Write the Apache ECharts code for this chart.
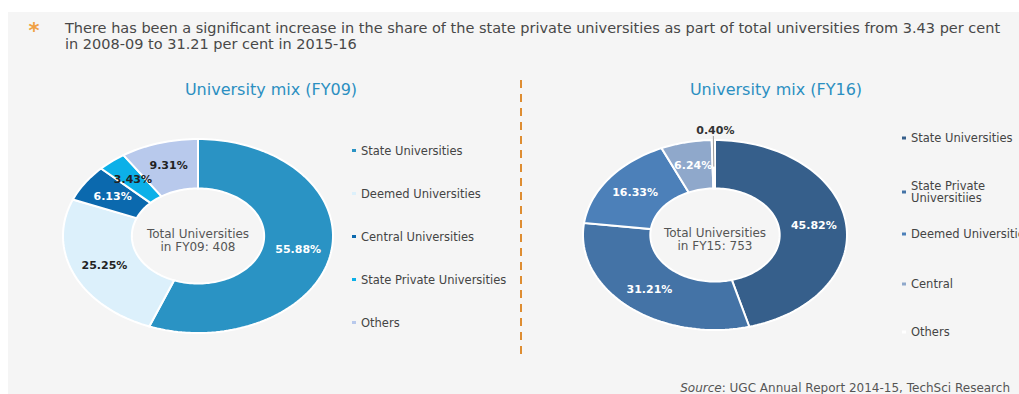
<!DOCTYPE html>
<html>
<head>
<meta charset="utf-8">
<title>University mix FY09 vs FY16</title>
<script src="https://cdn.jsdelivr.net/npm/echarts@6/dist/echarts.min.js"></script>
<style>
  html, body { margin: 0; padding: 0; background: #ffffff; }
  #chart { width: 1019px; height: 394px; }
</style>
</head>
<body>
<div id="chart"></div>
<script>
// University mix, FY09
const fy09Categories = ['State Universities', 'Deemed Universities', 'Central Universities', 'State Private Universities', 'Others'];
const fy09Shares = [55.88, 25.25, 6.13, 3.43, 9.31];
const fy09Total = 408;

// University mix, FY16
const fy16Categories = ['State Universities', 'State Private\nUniversitiies', 'Deemed Universities', 'Central', 'Others'];
const fy16Shares = [45.82, 31.21, 16.33, 6.24, 0.40];
const fy16Total = 753;

// Styles
const fy09Colors = ['#2a93c4', '#dcf0fb', '#0b69ae', '#0cb0e8', '#b8c9ec'];
const fy09LabelColors = ['#ffffff', '#222222', '#ffffff', '#222222', '#222222'];
const fy16Colors = ['#365f8b', '#4473a6', '#4c80b9', '#8fa8cb', '#ffffff'];
const fy16LabelColors = ['#ffffff', '#ffffff', '#ffffff', '#ffffff', '#333333'];

const FONT = '"DejaVu Sans", "Liberation Sans", Arial, sans-serif';
const INNER = 0.49;      // hole radius, relative to outer
const LABEL_R = 0.755;   // label radius, relative to outer

function makeRenderer(labelColors) {
  return function (params, api) {
    const start = api.value(0);
    const share = api.value(1);
    const total = api.value(2);
    const idx = api.value(3);
    const ang = t => t / total * Math.PI * 2;
    const pt = (a, r) => api.coord([Math.sin(a) * r, Math.cos(a) * r]);
    const steps = Math.max(3, Math.ceil(share * 2));
    const pts = [];
    for (let i = 0; i <= steps; i++) pts.push(pt(ang(start + share * i / steps), 1));
    for (let i = steps; i >= 0; i--) pts.push(pt(ang(start + share * i / steps), INNER));
    const mid = ang(start + share / 2);
    const children = [{
      type: 'polygon',
      shape: { points: pts },
      style: { fill: api.visual('color'), stroke: '#ffffff', lineWidth: 2 }
    }];
    const text = share.toFixed(2) + '%';
    if (share < 1) {
      // thin slice: label above the ring with a short leader
      const a = pt(mid, 0.72), b = pt(mid, 1);
      children.push({
        type: 'line', z2: 50,
        shape: { x1: a[0], y1: a[1], x2: b[0], y2: b[1] - 4 },
        style: { stroke: '#9a9a9a', lineWidth: 1 }
      });
      children.push({
        type: 'text', z2: 100, x: b[0] + 2, y: b[1] - 10,
        style: { text: text, fill: labelColors[idx], font: 'bold 11px ' + FONT, align: 'center', verticalAlign: 'middle' }
      });
    } else {
      const c = pt(mid, LABEL_R);
      children.push({
        type: 'text', z2: 100, x: c[0], y: c[1],
        style: { text: text, fill: labelColors[idx], font: 'bold 11px ' + FONT, align: 'center', verticalAlign: 'middle' }
      });
    }
    return { type: 'group', children: children };
  };
}

function donutSeries(categories, shares, colors, labelColors, axisIndex, suffix) {
  const total = shares.reduce((s, v) => s + v, 0);
  let acc = 0;
  return categories.map((name, i) => {
    const start = acc;
    acc += shares[i];
    return {
      type: 'custom',
      name: name + suffix,
      xAxisIndex: axisIndex,
      yAxisIndex: axisIndex,
      clip: false,
      itemStyle: { color: colors[i] },
      renderItem: makeRenderer(labelColors),
      data: [[start, shares[i], total, i]]
    };
  });
}

const SUFFIX16 = '#fy16';
const stripSuffix = n => n.replace(SUFFIX16, '');
const legendText = { fontFamily: FONT, fontSize: 11.5, color: '#444444' };

// per-entry legend offsets on the right-hand side
const fy16LegendTops = [127, 175, 223, 273, 321];

const option = {
  backgroundColor: '#ffffff',
  animation: false,
  grid: [
    { left: 63, top: 139, width: 270, height: 194 },
    { left: 583, top: 140, width: 264, height: 190 }
  ],
  xAxis: [
    { type: 'value', gridIndex: 0, min: -1, max: 1, show: false },
    { type: 'value', gridIndex: 1, min: -1, max: 1, show: false }
  ],
  yAxis: [
    { type: 'value', gridIndex: 0, min: -1, max: 1, show: false },
    { type: 'value', gridIndex: 1, min: -1, max: 1, show: false }
  ],
  legend: [
    {
      orient: 'vertical', left: 347, top: 139, icon: 'rect',
      itemWidth: 4, itemHeight: 3, itemGap: 30, selectedMode: false,
      textStyle: Object.assign({ lineHeight: 13 }, legendText),
      data: fy09Categories
    }
  ].concat(fy16Categories.map((name, i) => ({
    orient: 'vertical', left: 897, top: fy16LegendTops[i], icon: 'rect',
    itemWidth: 4, itemHeight: 3, selectedMode: false,
    textStyle: Object.assign({ lineHeight: 12 }, legendText),
    formatter: stripSuffix,
    data: [name + SUFFIX16]
  }))),
  graphic: [
    { type: 'rect', z: -10, shape: { x: 8, y: 12, width: 1011, height: 382 }, style: { fill: '#f5f5f5' } },
    { type: 'text', x: 34, y: 31, style: { text: '*', fill: '#f0a044', font: 'bold 21px ' + FONT, align: 'center', verticalAlign: 'middle' } },
    { type: 'text', x: 65, y: 36, style: {
        text: 'There has been a significant increase in the share of the state private universities as part of total universities from 3.43 per cent\nin 2008-09 to 31.21 per cent in 2015-16',
        fill: '#484848', font: '14.5px ' + FONT, lineHeight: 16, verticalAlign: 'middle' } },
    { type: 'text', x: 271, y: 89, style: { text: 'University mix (FY09)', fill: '#2b8fc1', font: '16px ' + FONT, align: 'center', verticalAlign: 'middle' } },
    { type: 'text', x: 776, y: 89, style: { text: 'University mix (FY16)', fill: '#2b8fc1', font: '16px ' + FONT, align: 'center', verticalAlign: 'middle' } },
    { type: 'text', x: 198, y: 240, style: { text: 'Total Universities\nin FY09: ' + fy09Total, fill: '#555555', font: '12px ' + FONT, lineHeight: 13, align: 'center', verticalAlign: 'middle' } },
    { type: 'text', x: 715, y: 239, style: { text: 'Total Universities\nin FY15: ' + fy16Total, fill: '#555555', font: '12px ' + FONT, lineHeight: 13, align: 'center', verticalAlign: 'middle' } },
    { type: 'line', shape: { x1: 521, y1: 80, x2: 521, y2: 359 }, style: { stroke: '#de8d32', lineWidth: 2, lineDash: [8, 6] } },
    { type: 'text', x: 1010, y: 388, style: {
        text: '{i|Source}: UGC Annual Report 2014-15, TechSci Research',
        fill: '#555555', font: '12px ' + FONT, align: 'right', verticalAlign: 'middle',
        rich: { i: { fontStyle: 'italic', fontSize: 12, fontFamily: FONT, fill: '#555555' } } } }
  ],
  series: donutSeries(fy09Categories, fy09Shares, fy09Colors, fy09LabelColors, 0, '')
    .concat(donutSeries(fy16Categories, fy16Shares, fy16Colors, fy16LabelColors, 1, SUFFIX16))
};

const chart = echarts.init(document.getElementById('chart'), null, { renderer: 'svg' });
chart.setOption(option);
</script>
</body>
</html>
